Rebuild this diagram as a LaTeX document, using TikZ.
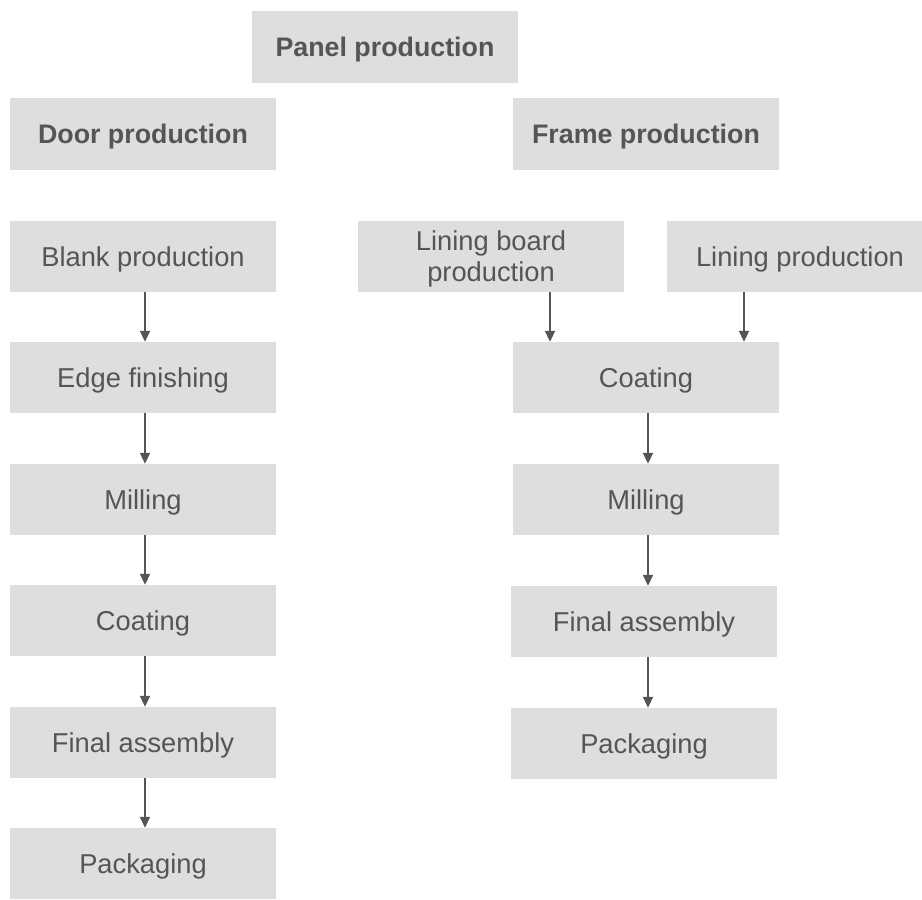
\documentclass[tikz,border=0pt]{standalone}
\usepackage{fontspec}
\setmainfont{Liberation Sans}
\usetikzlibrary{arrows.meta}
\definecolor{boxfill}{HTML}{DEDEDE}
\definecolor{txt}{HTML}{555555}
\tikzset{
  box/.style={fill=boxfill, draw=none, minimum width=266pt, minimum height=71pt, inner sep=0pt,
    text=txt, font=\fontsize{27.3}{31}\selectfont, align=center, text depth=0pt},
  head/.style={box, minimum height=72pt, font=\fontsize{26.8}{31}\selectfont\bfseries},
  arr/.style={draw=txt, line width=2pt, -{Triangle[width=10pt,length=11pt]}}
}
\begin{document}
\begin{tikzpicture}[x=1pt,y=1pt]
\useasboundingbox (0,0) rectangle (922,900);
\node[head] (panel) at (385,853) {Panel production};
\node[head] (door) at (143,766) {Door production};
\node[head] (frame) at (646,766) {Frame production};

\node[box] (blank) at (143,643.5) {Blank production};
\node[box] (edge) at (143,522.5) {Edge finishing};
\node[box] (millL) at (143,400.5) {Milling};
\node[box] (coatL) at (143,279.5) {Coating};
\node[box] (finalL) at (143,157.5) {Final assembly};
\node[box] (packL) at (143,36.5) {Packaging};

\node[box] (lboard) at (491,643.5) {Lining board\\production};
\node[box] (lining) at (800,643.5) {Lining production};
\node[box] (coatR) at (646,522.5) {Coating};
\node[box] (millR) at (646,400.5) {Milling};
\node[box] (finalR) at (644,278.5) {Final assembly};
\node[box] (packR) at (644,156.5) {Packaging};

\draw[arr] ([xshift=2pt]blank.south) -- ([xshift=2pt]edge.north);
\draw[arr] ([xshift=2pt]edge.south) -- ([xshift=2pt]millL.north);
\draw[arr] ([xshift=2pt]millL.south) -- ([xshift=2pt]coatL.north);
\draw[arr] ([xshift=2pt]coatL.south) -- ([xshift=2pt]finalL.north);
\draw[arr] ([xshift=2pt]finalL.south) -- ([xshift=2pt]packL.north);

\draw[arr] ([xshift=59pt]lboard.south) -- ([xshift=59pt]lboard.south |- coatR.north);
\draw[arr] ([xshift=-56pt]lining.south) -- ([xshift=-56pt]lining.south |- coatR.north);
\draw[arr] ([xshift=2pt]coatR.south) -- ([xshift=2pt]millR.north);
\draw[arr] ([xshift=2pt]millR.south) -- ([xshift=2pt]millR.south |- finalR.north);
\draw[arr] ([xshift=4pt]finalR.south) -- ([xshift=4pt]packR.north);
\end{tikzpicture}
\end{document}
